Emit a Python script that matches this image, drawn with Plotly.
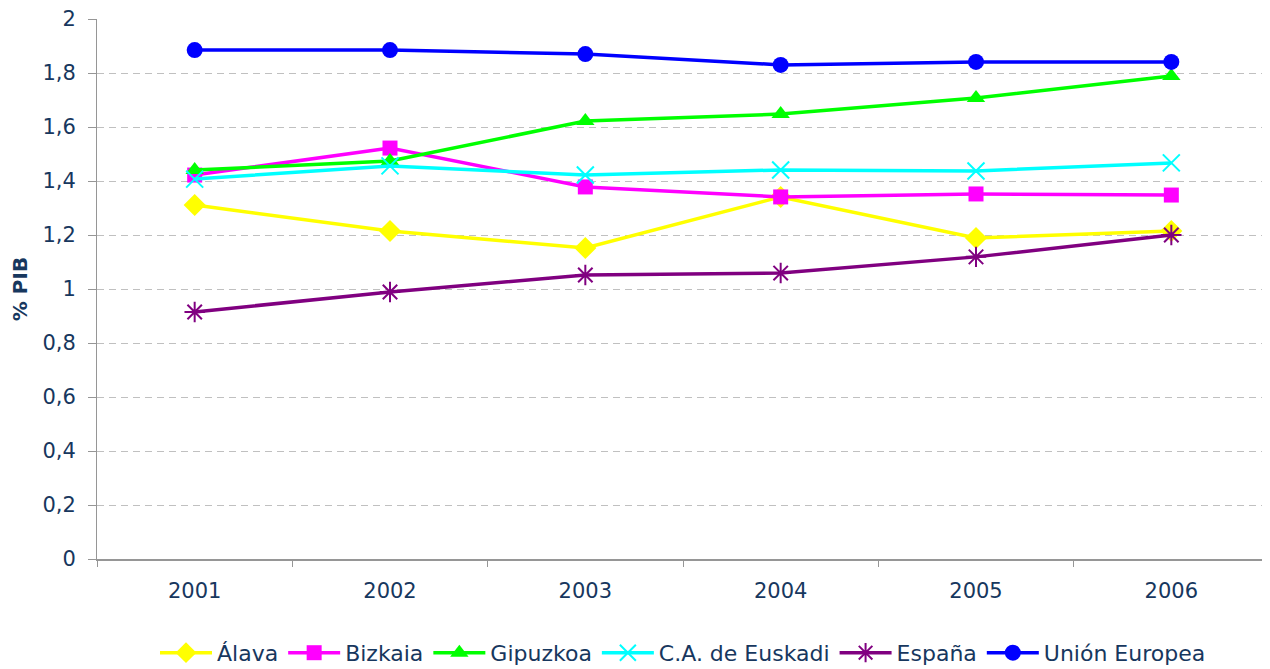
import plotly.graph_objects as go

years = ["2001", "2002", "2003", "2004", "2005", "2006"]
alava = [1.311, 1.215, 1.152, 1.341, 1.189, 1.215]
bizkaia = [1.422, 1.522, 1.378, 1.341, 1.352, 1.348]
gipuzkoa = [1.441, 1.474, 1.622, 1.648, 1.707, 1.789]
cae = [1.407, 1.456, 1.422, 1.441, 1.437, 1.467]
espana = [0.915, 0.989, 1.052, 1.059, 1.119, 1.200]
ue = [1.885, 1.885, 1.870, 1.830, 1.841, 1.841]
y_ticks = [0, 0.2, 0.4, 0.6, 0.8, 1, 1.2, 1.4, 1.6, 1.8, 2]
y_labels = ["0", "0,2", "0,4", "0,6", "0,8", "1", "1,2", "1,4", "1,6", "1,8", "2"]

series = [
    ("Álava", alava, "#FFFF00", "diamond", 17, 0),
    ("Bizkaia", bizkaia, "#FF00FF", "square", 15, 0),
    ("Gipuzkoa", gipuzkoa, "#00FF00", "triangle-up", 16, 0),
    ("C.A. de Euskadi", cae, "#00FFFF", "x-thin-open", 17, 2),
    ("España", espana, "#800080", "asterisk-open", 17, 2),
    ("Unión Europea", ue, "#0000FF", "circle", 16, 0),
]

fig = go.Figure()
for name, vals, col, sym, size, lw in series:
    mk = dict(symbol=sym, size=size, color=col)
    if lw:
        mk["line"] = dict(color=col, width=lw)
    fig.add_trace(go.Scatter(x=years, y=vals, name=name, mode="lines+markers",
                             line=dict(color=col, width=3.5), marker=mk))

txt = "#17375E"
fig.update_layout(
    width=1262, height=661,
    margin=dict(l=89, r=1, t=11, b=110, autoexpand=False),
    paper_bgcolor="white", plot_bgcolor="white",
    font=dict(family="DejaVu Sans", color=txt, size=20),
    showlegend=True,
    legend=dict(orientation="h", x=0.5, xanchor="center", y=-0.135, yanchor="top",
                font=dict(size=22, color=txt), itemwidth=52, tracegroupgap=0),
    xaxis=dict(type="category", range=[-0.5, 5.5], tickson="boundaries", ticks="outside",
               ticklen=6, tickcolor="#969696", showline=True, linecolor="#969696",
               linewidth=2, showgrid=False, tickfont=dict(size=21, color=txt),
               ticklabelstandoff=12),
    yaxis=dict(range=[0, 2], tickvals=y_ticks, ticktext=y_labels, ticks="outside",
               ticklen=8, tickcolor="#969696", showline=True, linecolor="#969696",
               linewidth=1, showgrid=True, gridcolor="#C0C0C0", griddash="7px,5px",
               zeroline=False, tickfont=dict(size=21, color=txt), ticklabelstandoff=8,
               ticklabeloverflow="allow",
               title=dict(text="<b>% PIB</b>", font=dict(size=20, color=txt), standoff=16)),
)
fig.write_html("out.html")
